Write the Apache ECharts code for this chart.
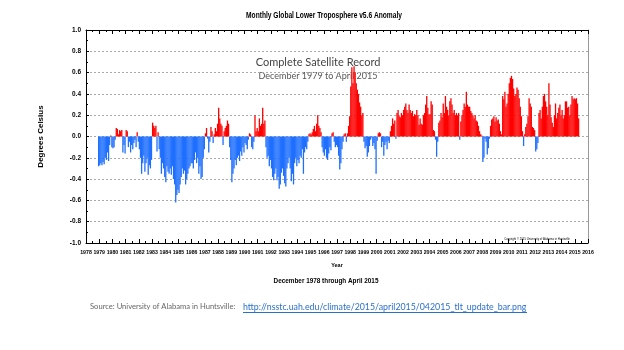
<!DOCTYPE html>
<html>
<head>
<meta charset="utf-8">
<script src="https://cdn.jsdelivr.net/npm/echarts@6/dist/echarts.min.js"></script>
<style>
  html, body { margin: 0; padding: 0; background: #fff; }
  #chart { width: 624px; height: 350px; }
</style>
</head>
<body>
<div id="chart"></div>
<script>
// monthly anomalies, deg C (Dec 1978 .. Apr 2015)
var y1978 = [-0.28];
var y1979 = [-0.27, -0.25, -0.27, -0.24, -0.26, -0.20, -0.22, -0.15, -0.23, -0.08, 0.01, -0.10];
var y1980 = [-0.11, -0.10, -0.03, 0.08, 0.07, 0.02, 0.06, 0.05, 0.06, -0.15, -0.08, -0.16];
var y1981 = [0.06, 0.05, -0.10, -0.05, -0.15, -0.08, -0.12, -0.06, -0.03, -0.10, 0.04, -0.05];
var y1982 = [-0.12, -0.20, -0.35, -0.25, -0.18, -0.33, -0.25, -0.20, -0.36, -0.27, -0.30, -0.22];
var y1983 = [0.13, 0.10, 0.08, 0.10, -0.14, 0.04, -0.12, -0.20, -0.35, -0.25, -0.30, -0.38];
var y1984 = [-0.43, -0.28, -0.33, -0.35, -0.30, -0.36, -0.28, -0.40, -0.45, -0.62, -0.55, -0.50];
var y1985 = [-0.53, -0.45, -0.38, -0.30, -0.35, -0.32, -0.45, -0.40, -0.35, -0.30, -0.28, -0.25];
var y1986 = [-0.25, -0.30, -0.22, -0.15, -0.25, -0.20, -0.35, -0.28, -0.40, -0.38, -0.20, -0.12];
var y1987 = [0.03, 0.08, -0.02, -0.15, -0.05, 0.09, 0.05, -0.06, 0.02, 0.08, 0.05, 0.12];
var y1988 = [0.27, 0.17, 0.12, 0.10, -0.08, 0.05, 0.08, 0.10, 0.15, 0.12, -0.10, -0.22];
var y1989 = [-0.43, -0.35, -0.30, -0.22, -0.27, -0.20, -0.18, -0.23, -0.14, -0.18, -0.10, -0.15];
var y1990 = [-0.06, -0.08, -0.12, -0.03, 0.03, 0.02, -0.10, -0.12, -0.05, 0.20, 0.05, 0.08];
var y1991 = [0.05, 0.17, 0.10, 0.12, 0.27, 0.12, 0.15, -0.10, -0.20, -0.18, -0.28, -0.22];
var y1992 = [-0.30, -0.38, -0.41, -0.35, -0.30, -0.41, -0.38, -0.49, -0.45, -0.34, -0.30, -0.37];
var y1993 = [-0.44, -0.47, -0.30, -0.25, -0.20, -0.30, -0.42, -0.35, -0.45, -0.25, -0.20, -0.28];
var y1994 = [-0.22, -0.25, -0.18, -0.20, -0.12, -0.35, -0.15, -0.10, -0.12, -0.05, 0.02, 0.03];
var y1995 = [0.02, 0.04, 0.07, 0.10, 0.05, 0.12, 0.20, 0.10, 0.08, 0.04, -0.10, -0.15];
var y1996 = [-0.18, -0.12, -0.20, -0.22, -0.16, -0.10, -0.13, 0.03, 0.04, -0.05, -0.10, -0.08];
var y1997 = [-0.10, -0.18, -0.31, -0.25, -0.12, -0.05, 0.02, 0.03, -0.05, 0.03, 0.10, 0.19];
var y1998 = [0.47, 0.65, 0.50, 0.66, 0.60, 0.50, 0.44, 0.40, 0.32, 0.28, 0.20, 0.22];
var y1999 = [-0.05, -0.11, -0.09, -0.19, -0.15, -0.09, -0.03, -0.01, -0.09, -0.06, -0.12, -0.35];
var y2000 = [-0.04, 0.03, 0.04, 0.03, -0.10, -0.05, -0.18, -0.08, -0.05, -0.12, -0.04, -0.06];
var y2001 = [0.05, 0.10, 0.17, 0.12, 0.15, -0.02, 0.22, 0.25, 0.19, 0.18, 0.22, 0.20];
var y2002 = [0.25, 0.28, 0.31, 0.25, 0.22, 0.30, 0.25, 0.22, 0.24, 0.19, 0.21, 0.20];
var y2003 = [0.25, 0.20, 0.11, 0.17, 0.12, 0.11, 0.20, 0.22, 0.30, 0.38, 0.27, 0.21];
var y2004 = [0.21, 0.33, 0.30, 0.06, 0.05, -0.03, -0.19, -0.05, 0.13, 0.15, 0.22, 0.18];
var y2005 = [0.31, 0.22, 0.38, 0.28, 0.25, 0.20, 0.33, 0.36, 0.30, 0.22, 0.25, 0.20];
var y2006 = [0.22, 0.20, 0.22, -0.03, 0.14, 0.20, 0.25, 0.31, 0.28, 0.42, 0.30, 0.28];
var y2007 = [0.28, 0.24, 0.22, 0.20, 0.17, 0.20, 0.15, 0.14, 0.10, 0.05, 0.02, 0.01];
var y2008 = [-0.24, -0.20, -0.02, -0.05, -0.17, -0.11, -0.02, 0.10, 0.16, 0.17, 0.19, 0.14];
var y2009 = [0.18, 0.15, 0.16, 0.12, 0.05, 0.02, 0.38, 0.35, 0.42, 0.28, 0.31, 0.40];
var y2010 = [0.50, 0.55, 0.57, 0.54, 0.45, 0.38, 0.40, 0.46, 0.44, 0.36, 0.28, 0.19];
var y2011 = [0.05, -0.09, 0.02, 0.09, 0.12, 0.19, 0.36, 0.31, 0.28, 0.09, 0.08, 0.06];
var y2012 = [-0.14, -0.12, -0.06, 0.22, 0.25, 0.17, 0.28, 0.38, 0.40, 0.33, 0.28, 0.20];
var y2013 = [0.50, 0.30, 0.18, 0.13, 0.09, 0.20, 0.31, 0.17, 0.22, 0.27, 0.30, 0.20];
var y2014 = [0.25, 0.17, 0.20, 0.33, 0.33, 0.27, 0.28, 0.20, 0.30, 0.38, 0.35, 0.36];
var y2015 = [0.35, 0.36, 0.31, 0.17];

var anomalies = [].concat(y1978, y1979, y1980, y1981, y1982, y1983, y1984, y1985,
  y1986, y1987, y1988, y1989, y1990, y1991, y1992, y1993, y1994, y1995, y1996,
  y1997, y1998, y1999, y2000, y2001, y2002, y2003, y2004, y2005, y2006, y2007,
  y2008, y2009, y2010, y2011, y2012, y2013, y2014, y2015);

var firstYear = 1978;
var firstMonth = 11; // December, 0-based

var barData = anomalies.map(function(v, i) {
  var m = firstMonth + i;
  return [firstYear + (m + 0.5) / 12, v];
});

var chart = echarts.init(document.getElementById('chart'));

var boldSans = 'Liberation Sans';

var option = {
  animation: false,
  backgroundColor: '#fff',
  grid: { left: 86, right: 36, top: 30, bottom: 107, show: false },
  xAxis: [
    {
      type: 'value',
      min: 1978,
      max: 2016,
      interval: 1,
      position: 'bottom',
      name: 'Year',
      nameLocation: 'middle',
      nameGap: 19,
      nameTextStyle: { fontFamily: boldSans, fontWeight: 'bold', fontSize: 5.5, color: '#000' },
      axisLine: { show: true, onZero: false, lineStyle: { color: '#000', width: 1 } },
      axisTick: { show: true, inside: true, length: 4, lineStyle: { color: '#000' } },
      minorTick: { show: true, splitNumber: 2, length: 2, lineStyle: { color: '#000' } },
      axisLabel: {
        fontFamily: boldSans, fontWeight: 'bold', color: '#000', fontSize: 5.2, margin: 7,
        formatter: function(v) { return String(v); }
      },
      splitLine: { show: false }
    },
    {
      type: 'value',
      min: 1978,
      max: 2016,
      interval: 1,
      position: 'top',
      axisLine: { show: true, onZero: false, lineStyle: { color: '#000', width: 1 } },
      axisTick: { show: true, inside: true, length: 4, lineStyle: { color: '#000' } },
      minorTick: { show: true, splitNumber: 2, length: 2, lineStyle: { color: '#000' } },
      axisLabel: { show: false },
      splitLine: { show: false }
    }
  ],
  yAxis: [
    {
      type: 'value',
      min: -1,
      max: 1,
      interval: 0.2,
      name: 'Degrees Celsius',
      nameLocation: 'middle',
      nameGap: 41,
      nameRotate: 90,
      nameTextStyle: { fontFamily: boldSans, fontWeight: 'bold', fontSize: 8, color: '#000' },
      axisLine: { show: true, onZero: false, lineStyle: { color: '#000', width: 1 } },
      axisTick: { show: true, inside: true, length: 3, lineStyle: { color: '#000' } },
      minorTick: { show: true, splitNumber: 2, length: 2, lineStyle: { color: '#000' } },
      axisLabel: {
        fontFamily: boldSans, fontWeight: 'bold', color: '#000', fontSize: 6.5, margin: 5,
        formatter: function(v) { return v.toFixed(1); }
      },
      splitLine: { show: true, lineStyle: { color: '#aaa', type: [2, 2], width: 1 } }
    },
    {
      type: 'value',
      min: -1,
      max: 1,
      interval: 0.2,
      position: 'right',
      axisLine: { show: true, onZero: false, lineStyle: { color: '#999', width: 1 } },
      axisTick: { show: false },
      axisLabel: { show: false },
      splitLine: { show: false }
    }
  ],
  series: [
    {
      type: 'bar',
      xAxisIndex: 0,
      yAxisIndex: 0,
      barWidth: 1.3,
      data: barData,
      itemStyle: {
        color: function(p) { return p.value[1] >= 0 ? '#ff0000' : '#1f6fff'; }
      }
    }
  ],
  graphic: [
    {
      type: 'text', x: 324, y: 16, scaleX: 0.78,
      style: { text: 'Monthly Global Lower Troposphere v5.6 Anomaly', fontFamily: boldSans, fontWeight: 'bold', fontSize: 8.5, fill: '#000', textAlign: 'center', textVerticalAlign: 'middle' }
    },
    {
      type: 'text', x: 318, y: 62,
      style: { text: 'Complete Satellite Record', fontFamily: 'Lato', fontSize: 11, fill: '#444', textAlign: 'center', textVerticalAlign: 'middle' }
    },
    {
      type: 'text', x: 318, y: 76,
      style: { text: 'December 1979 to April 2015', fontFamily: 'Lato', fontSize: 9, fill: '#555', textAlign: 'center', textVerticalAlign: 'middle' }
    },
    {
      type: 'text', x: 537, y: 239, scaleX: 0.8,
      style: { text: 'Copyright \u00a9 2015 University of Alabama in Huntsville', fontFamily: boldSans, fontSize: 3.5, fill: '#000', textAlign: 'center', textVerticalAlign: 'middle' }
    },
    {
      type: 'text', x: 326, y: 281, scaleX: 0.85,
      style: { text: 'December 1978 through April 2015', fontFamily: boldSans, fontWeight: 'bold', fontSize: 7.5, fill: '#000', textAlign: 'center', textVerticalAlign: 'middle' }
    },
    {
      type: 'text', x: 90, y: 307,
      style: { text: 'Source: University of Alabama in Huntsville:', fontFamily: 'Lato', fontSize: 7.6, fill: '#666', textVerticalAlign: 'middle' }
    },
    {
      type: 'text', x: 243, y: 307,
      style: { text: 'http://nsstc.uah.edu/climate/2015/april2015/042015_tlt_update_bar.png', fontFamily: 'Lato', fontSize: 8.8, fill: '#2a6fc9', textVerticalAlign: 'middle' }
    },
    {
      type: 'line', shape: { x1: 243, y1: 312.5, x2: 527, y2: 312.5 },
      style: { stroke: '#2a6fc9', lineWidth: 1 }
    }
  ]
};

chart.setOption(option);
</script>
</body>
</html>
